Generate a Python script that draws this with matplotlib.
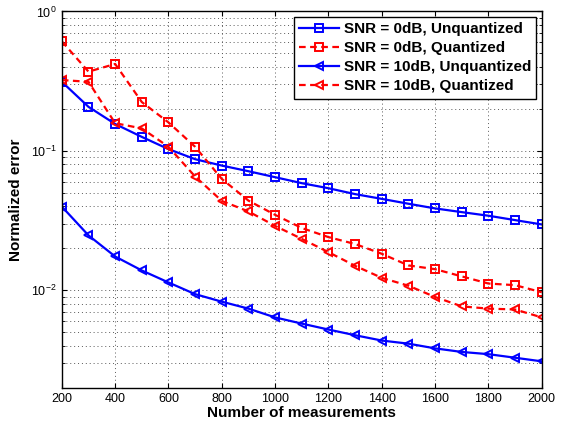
import matplotlib
matplotlib.use('Agg')
import matplotlib.pyplot as plt
from matplotlib.ticker import LogLocator, NullFormatter

plt.rcParams['font.family'] = ['Liberation Sans', 'DejaVu Sans']

measurements = list(range(200, 2001, 100))

snr0_unquant = [0.313, 0.207, 0.156, 0.126, 0.103, 0.0872, 0.0785, 0.0715, 0.0648, 0.0587,
                0.054, 0.049, 0.0453, 0.0418, 0.0387, 0.0364, 0.0343, 0.0319, 0.0297]
snr0_quant = [0.61, 0.37, 0.42, 0.224, 0.160, 0.107, 0.063, 0.044, 0.0348, 0.028,
              0.0241, 0.0215, 0.0183, 0.0151, 0.0142, 0.0126, 0.0112, 0.0109, 0.0097]
snr10_unquant = [0.0399, 0.0248, 0.0175, 0.0139, 0.0114, 0.0094, 0.0083, 0.0074, 0.0064, 0.00578,
                 0.00524, 0.00477, 0.00437, 0.00415, 0.00384, 0.00362, 0.00349, 0.00329, 0.0031]
snr10_quant = [0.322, 0.313, 0.158, 0.145, 0.107, 0.0655, 0.0438, 0.0368, 0.029, 0.0234,
               0.0188, 0.0150, 0.0123, 0.0108, 0.00897, 0.00768, 0.0074, 0.0073, 0.0064]

labels = ['SNR = 0dB, Unquantized', 'SNR = 0dB, Quantized',
          'SNR = 10dB, Unquantized', 'SNR = 10dB, Quantized']

fig = plt.figure(figsize=(5.62, 4.23), dpi=100)
ax = fig.add_axes([0.110, 0.083, 0.854, 0.890])

style = dict(lw=1.6, ms=5.5, mew=1.4, mfc='none')
dash = (3, 2)
ax.semilogy(measurements, snr0_unquant, 'b-s', label=labels[0], **style)
ax.semilogy(measurements, snr0_quant, 'r--s', dashes=dash, label=labels[1], **style)
ax.semilogy(measurements, snr10_unquant, 'b-<', label=labels[2], **style)
ax.semilogy(measurements, snr10_quant, 'r--<', dashes=dash, label=labels[3], **style)

ax.set_xlim(200, 2000)
ax.set_ylim(2e-3, 1)
ax.set_xticks(range(200, 2001, 200))
ax.yaxis.set_major_locator(LogLocator(base=10, numticks=10))
ax.yaxis.set_minor_locator(LogLocator(base=10, subs=range(2, 10), numticks=20))
ax.yaxis.set_minor_formatter(NullFormatter())

grid_style = dict(ls=(0, (1, 3)), color='0.35', lw=0.7)
ax.grid(True, which='major', **grid_style)
ax.grid(True, which='minor', axis='y', **grid_style)
ax.set_axisbelow(True)
ax.tick_params(which='both', direction='in', top=True, right=True, labelsize=9)
for s in ax.spines.values():
    s.set_linewidth(1.0)

ax.set_xlabel('Number of measurements', fontsize=11, fontweight='bold', labelpad=1)
ax.set_ylabel('Normalized error', fontsize=11, fontweight='bold', labelpad=6)

leg = ax.legend(loc='upper right', prop={'weight': 'bold', 'size': 11},
                fancybox=False, framealpha=1, edgecolor='black', borderpad=0.35,
                labelspacing=0.33, handlelength=2.6, handletextpad=0.3,
                borderaxespad=0.35)
leg.get_frame().set_linewidth(1.0)

fig.savefig('out.png', dpi=100)
